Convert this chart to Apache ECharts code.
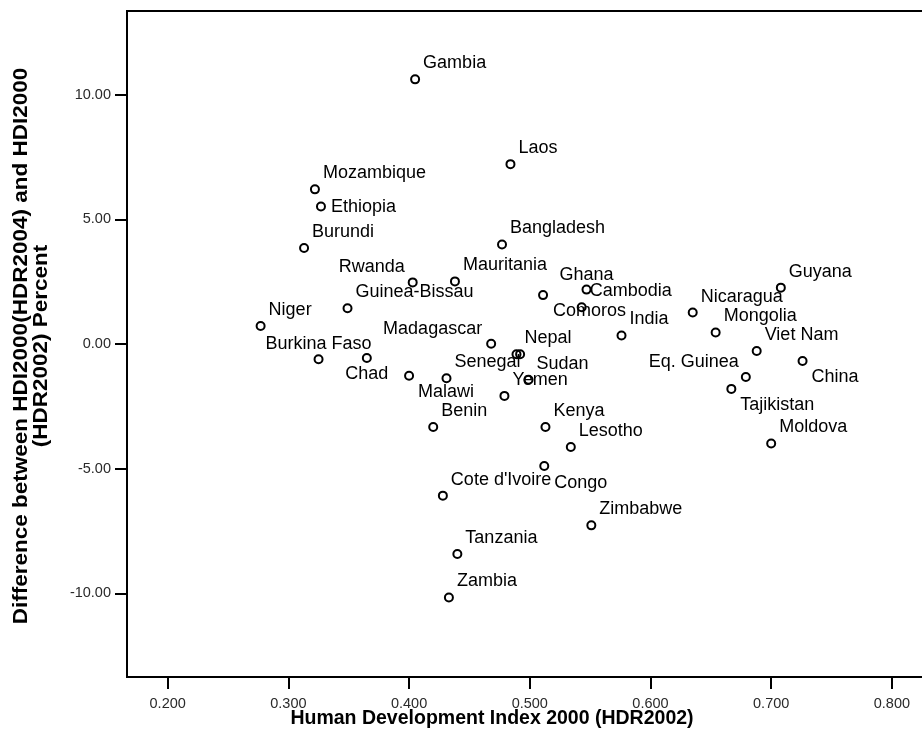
<!DOCTYPE html>
<html>
<head>
<meta charset="utf-8">
<script src="https://cdn.jsdelivr.net/npm/echarts@6/dist/echarts.min.js"></script>
<style>html,body{margin:0;padding:0;background:#fff}#c{width:922px;height:742px}</style>
</head>
<body>
<div id="c"></div>
<script>
const countries = ["Gambia","Laos","Mozambique","Ethiopia","Bangladesh","Burundi","Rwanda","Mauritania","Guinea-Bissau","Niger","Madagascar","Burkina Faso","Chad","Malawi","Senegal","Benin","Comoros","Ghana","Cambodia","India","Nicaragua","Guyana","Mongolia","Viet Nam","China","Eq. Guinea","Tajikistan","Moldova","Nepal","","Sudan","Yemen","Kenya","Lesotho","Congo","Cote d'Ivoire","Zimbabwe","Tanzania","Zambia"];
const hdi2000 = [0.405,0.484,0.322,0.327,0.477,0.313,0.403,0.438,0.349,0.277,0.468,0.325,0.365,0.400,0.431,0.420,0.511,0.547,0.543,0.576,0.635,0.708,0.654,0.688,0.726,0.679,0.667,0.700,0.489,0.492,0.499,0.479,0.513,0.534,0.512,0.428,0.551,0.440,0.433];
const diffPercent = [10.61,7.21,6.20,5.51,3.99,3.85,2.47,2.51,1.43,0.72,0.01,-0.61,-0.56,-1.27,-1.37,-3.33,1.96,2.18,1.47,0.34,1.26,2.26,0.46,-0.28,-0.68,-1.32,-1.80,-3.99,-0.41,-0.41,-1.43,-2.08,-3.33,-4.13,-4.89,-6.08,-7.27,-8.42,-10.16];
const xTicks = [0.2,0.3,0.4,0.5,0.6,0.7,0.8];
const yTicks = [-10,-5,0,5,10];
const xTitle = "Human Development Index 2000 (HDR2002)";
const yTitle = "Difference between HDI2000(HDR2004) and HDI2000\n(HDR2002) Percent";

// label placement (layout only)
const labelPlace = {
  "Rwanda": ["right", -8, -15],
  "Madagascar": ["right", -9, -15],
  "Burkina Faso": ["center", 0, -15],
  "Chad": ["center", 0, 16],
  "Malawi": ["left", 9, 16],
  "Ghana": ["center", 0, -15],
  "Comoros": ["left", 10, 16],
  "Eq. Guinea": ["right", -7, -15],
  "China": ["left", 9, 16],
  "Tajikistan": ["left", 9, 16],
  "Congo": ["left", 10, 17],
  "Ethiopia": ["left", 10, 0]
};
const FONT = '"Liberation Sans", Arial, sans-serif';

const data = countries.map((n, i) => {
  const p = labelPlace[n] || ["left", 8, -16];
  return {
    name: n,
    value: [hdi2000[i], diffPercent[i]],
    label: { show: n !== "", align: p[0], offset: [p[1], p[2]] }
  };
});

const chart = echarts.init(document.getElementById('c'), null, {renderer: 'canvas'});
chart.setOption({
  animation: false,
  backgroundColor: '#fff',
  grid: { left: 127, top: 11, width: 800, height: 666, show: true, borderColor: '#000', borderWidth: 2, outerBoundsMode: 'none', containLabel: false },
  xAxis: {
    type: 'value', min: 0.1663, max: 0.8291,
    axisLine: { onZero: false, lineStyle: { color: '#000', width: 2 } },
    axisTick: { show: true, length: 12, lineStyle: { color: '#000', width: 2 }, customValues: xTicks },
    axisLabel: { customValues: xTicks, margin: 19, color: '#2a2a2a', fontSize: 14.5, fontFamily: FONT, formatter: v => v.toFixed(3) },
    splitLine: { show: false }
  },
  yAxis: {
    type: 'value', min: -13.35, max: 13.35,
    axisLine: { onZero: false, lineStyle: { color: '#000', width: 2 } },
    axisTick: { show: true, length: 12, lineStyle: { color: '#000', width: 2 }, customValues: yTicks },
    axisLabel: { customValues: yTicks, margin: 16, color: '#2a2a2a', fontSize: 14.5, fontFamily: FONT, formatter: v => v.toFixed(2) },
    splitLine: { show: false }
  },
  graphic: [
    { type: 'text', x: 492, y: 719, style: { text: xTitle, fill: '#000', fontSize: 19.5, fontWeight: 'bold', fontFamily: FONT, align: 'center', verticalAlign: 'middle' } },
    { type: 'text', x: 31, y: 346, rotation: Math.PI / 2, scaleX: 1.125, style: { text: yTitle, fill: '#000', fontSize: 20, fontWeight: 'bold', fontFamily: FONT, align: 'center', verticalAlign: 'middle', lineHeight: 20 } }
  ],
  series: [{
    type: 'scatter',
    symbol: 'circle',
    symbolSize: 8,
    itemStyle: { color: 'rgba(0,0,0,0)', borderColor: '#000', borderWidth: 2, opacity: 1 },
    label: { show: true, position: 'inside', formatter: '{b}', color: '#000', fontSize: 18, fontFamily: FONT, verticalAlign: 'middle' },
    emphasis: { disabled: true },
    data: data
  }]
});
</script>
</body>
</html>
